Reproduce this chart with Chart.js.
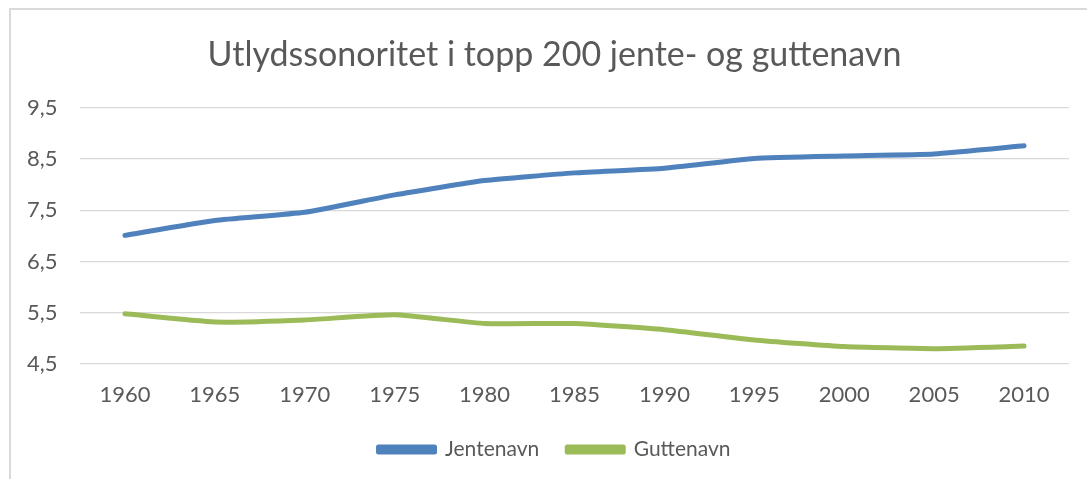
<!DOCTYPE html>
<html>
<head>
<meta charset="utf-8">
<script src="https://cdn.jsdelivr.net/npm/chart.js@4"></script>
<style>
  html, body { margin: 0; padding: 0; background: #fff; overflow: hidden; }
  #wrap { position: absolute; left: 0; top: 0; width: 1087px; height: 479px; }
  #frame { position: absolute; left: 9px; top: 8px; width: 1200px; height: 600px; border: 2px solid #d9d9d9; }
</style>
</head>
<body>
<div id="wrap">
  <div id="frame"></div>
  <canvas id="myChart" width="1087" height="479"></canvas>
</div>
<script>
const years = ['1960', '1965', '1970', '1975', '1980', '1985', '1990', '1995', '2000', '2005', '2010'];
const jentenavn = [7.01, 7.30, 7.46, 7.80, 8.08, 8.23, 8.32, 8.51, 8.56, 8.60, 8.76];
const guttenavn = [5.48, 5.32, 5.36, 5.46, 5.29, 5.29, 5.17, 4.97, 4.84, 4.80, 4.85];
const yTicks = [4.5, 5.5, 6.5, 7.5, 8.5, 9.5];

const textColor = '#595959';
const fontFamily = 'Lato, "Open Sans", sans-serif';

const ctx = document.getElementById('myChart').getContext('2d');

const myChart = new Chart(ctx, {
    type: 'line',
    data: {
        labels: years,
        datasets: [{
            label: 'Jentenavn',
            data: jentenavn,
            borderColor: '#4f81bd',
            backgroundColor: '#4f81bd',
            borderWidth: 5,
            pointRadius: 0,
            tension: 0.15,
            borderCapStyle: 'round',
            borderJoinStyle: 'round'
        }, {
            label: 'Guttenavn',
            data: guttenavn,
            borderColor: '#9bbb59',
            backgroundColor: '#9bbb59',
            borderWidth: 5,
            pointRadius: 0,
            tension: 0.15,
            borderCapStyle: 'round',
            borderJoinStyle: 'round'
        }]
    },
    options: {
        responsive: false,
        animation: false,
        layout: {
            padding: { left: 40, right: 18, top: 0, bottom: 9 }
        },
        plugins: {
            title: {
                display: true,
                text: 'Utlydssonoritet i topp 200 jente- og guttenavn',
                color: textColor,
                font: { family: fontFamily, size: 34, weight: 'normal' },
                padding: { top: 35, bottom: 32 }
            },
            legend: {
                position: 'bottom',
                labels: {
                    color: textColor,
                    font: { family: fontFamily, size: 21 },
                    boxWidth: 56,
                    boxHeight: 5,
                    padding: 28
                }
            },
            tooltip: { enabled: false }
        },
        scales: {
            x: {
                offset: true,
                grid: { display: false, drawTicks: false },
                border: { display: false },
                afterFit: (axis) => {
                    axis.height = 47;
                },
                ticks: {
                    color: textColor,
                    font: { family: fontFamily, size: 22 },
                    padding: 18,
                    maxRotation: 0
                }
            },
            y: {
                min: 4.5,
                max: 9.5,
                afterBuildTicks: (axis) => {
                    axis.ticks = yTicks.map(v => ({ value: v }));
                },
                afterFit: (axis) => {
                    axis.width = 40;
                },
                grid: { color: '#d9d9d9', lineWidth: 1.3, drawTicks: false },
                border: { display: false },
                ticks: {
                    color: textColor,
                    font: { family: fontFamily, size: 22 },
                    // mirrored so the labels are not clipped to the narrow axis box
                    mirror: true,
                    padding: -53,
                    callback: (value) => value.toFixed(1).replace('.', ',')
                }
            }
        }
    }
});
</script>
</body>
</html>
